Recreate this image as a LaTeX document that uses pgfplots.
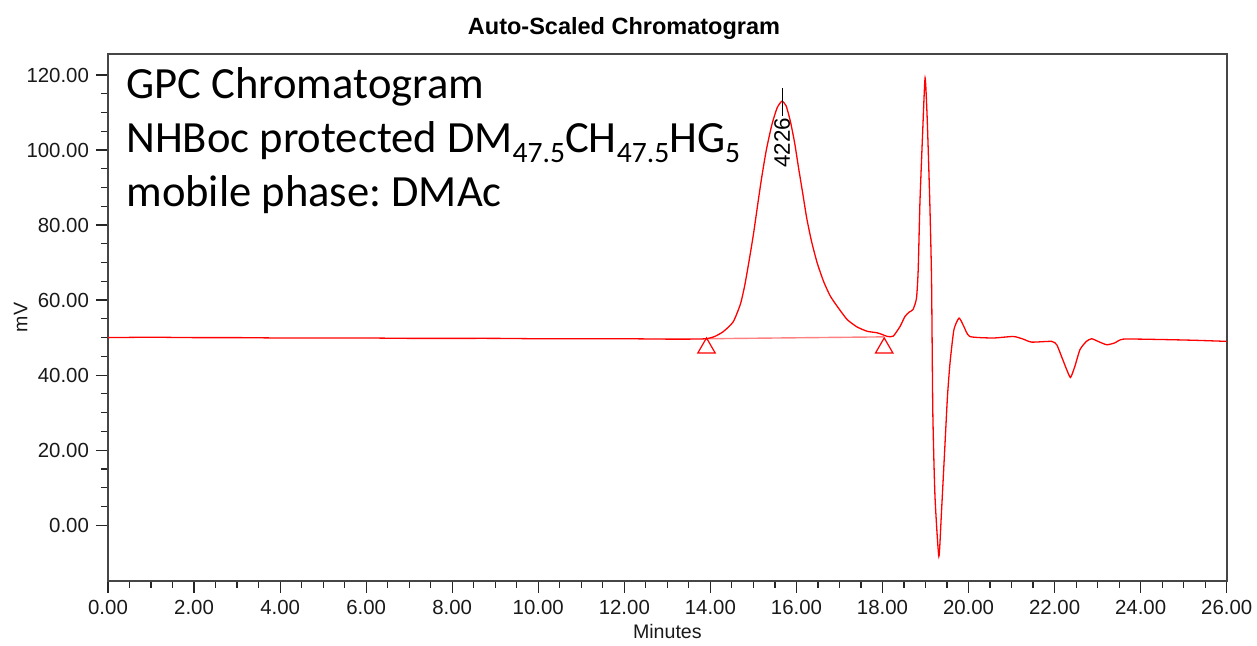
\documentclass[border=0pt]{standalone}
\usepackage{fontspec}
\setmainfont{Liberation Sans}
\newfontfamily\calfont{Carlito}
\usepackage{pgfplots}
\pgfplotsset{compat=1.18}
\definecolor{trace}{RGB}{255,0,0}
\definecolor{basel}{RGB}{255,130,130}
\definecolor{framegray}{RGB}{70,70,70}
\newcommand{\sub}[1]{\raisebox{-4.8pt}{\fontsize{14.8}{15}\selectfont #1}}
\frenchspacing

\begin{document}
\begin{tikzpicture}
\path[use as bounding box] (-54pt,-32.15pt) rectangle (574.5pt,290.35pt);
\begin{axis}[
  at={(0,0)}, anchor=south west,
  scale only axis, width=559.35pt, height=263.35pt,
  xmin=0, xmax=26, ymin=-14.8, ymax=125.6,
  xtick={0,2,...,26}, ytick={0,20,...,120},
  minor x tick num=3, minor y tick num=3,
  tick align=outside, major tick length=6pt, minor tick length=3.5pt,
  xtick pos=left, ytick pos=left,
  tick style={black!85, line width=0.6pt},
  axis line style={framegray, line width=0.9pt},
  /pgf/number format/fixed, /pgf/number format/fixed zerofill,
  /pgf/number format/precision=2, /pgf/number format/assume math mode=true,
  ticklabel style={font=\fontsize{10.2}{11}\selectfont, text=black!90},
  xlabel={Minutes}, ylabel={mV},
  label style={font=\fontsize{9.8}{10}\selectfont, text=black!90},
  xlabel style={at={(axis description cs:0.5,-0.0968)}, anchor=center},
  ylabel style={at={(axis description cs:-0.0782,0.5)}, anchor=center},
]
\addplot[basel, line width=0.7pt] coordinates {(13.91,49.7) (18.04,50.2)};
\addplot[trace, line width=0.65pt, smooth, tension=0.35] coordinates {
(0,50.0) (1,50.1) (2,50.0) (3,50.0) (4,49.9) (5,49.9) (6,49.9) (7,49.8) (8,49.8)
(9,49.8) (10,49.7) (11,49.7) (12,49.7) (13,49.6) (13.5,49.6) (13.9,49.7)
(14.1,50.3) (14.3,51.6) (14.53,54.2) (14.7,59.0) (14.8,64.0) (14.9,70.5) (15.0,77.5)
(15.1,85.5) (15.19,92.5) (15.3,100) (15.43,106.8) (15.55,111.2) (15.66,113.0)
(15.76,111.8) (15.86,107.6) (15.96,101.8) (16.05,95.2) (16.15,88.2) (16.24,81.8)
(16.35,75.7) (16.48,70.0) (16.63,65) (16.79,61.0) (17.0,57.5) (17.18,54.8)
(17.4,52.9) (17.64,51.7) (17.87,51.3) (18.0,50.8) (18.12,50.3) (18.25,50.4)
(18.41,53.0) (18.52,55.6) (18.62,56.8) (18.71,57.5) (18.79,60.5) (18.83,68.1)
(18.87,85.9) (18.93,103.7) (18.99,119.2) (19.04,108.1) (19.10,85.9) (19.14,65.5)
(19.17,29.9) (19.22,7.7) (19.31,-8.3) (19.37,3.3) (19.45,21.0) (19.51,34.3)
(19.57,43.3) (19.66,52.1) (19.78,55.2) (19.89,53.0) (20.03,50.3) (20.57,49.9)
(21.04,50.3) (21.27,49.6) (21.47,48.8) (21.93,49.0) (22.05,48.1) (22.16,45.0)
(22.28,41.5) (22.37,39.4) (22.47,42.3) (22.59,46.8) (22.74,49.0) (22.86,49.7)
(23.01,49.0) (23.21,48.1) (23.40,48.6) (23.60,49.6) (24.45,49.5) (25.22,49.3)
(26.0,49.0)
};
\addplot[only marks, mark=triangle, mark size=5pt, red, mark options={line width=0.6pt}] coordinates {(13.91,47.25) (18.04,47.25)};
\draw[black, line width=0.6pt] (axis cs:15.67,116.6) -- (axis cs:15.67,109);
\node[rotate=90, anchor=east, inner sep=0.5pt, font=\fontsize{11.2}{12}\selectfont] at (axis cs:15.67,109) {4226};
\end{axis}
\node[font=\bfseries\fontsize{11.75}{12}\selectfont] at (258pt,276pt) {Auto-Scaled Chromatogram};
\node[anchor=base west, inner sep=0pt, font=\calfont\fontsize{22.3}{24}\selectfont] at (9.0pt,241pt) {GPC Chromatogram};
\node[anchor=base west, inner sep=0pt, font=\calfont\fontsize{22.3}{24}\selectfont] at (9.0pt,214pt) {NHBoc protected DM\sub{47.5}CH\sub{47.5}HG\sub{5}};
\node[anchor=base west, inner sep=0pt, font=\calfont\fontsize{22.3}{24}\selectfont] at (9.0pt,187.3pt) {mobile phase: DMAc};
\end{tikzpicture}
\end{document}
